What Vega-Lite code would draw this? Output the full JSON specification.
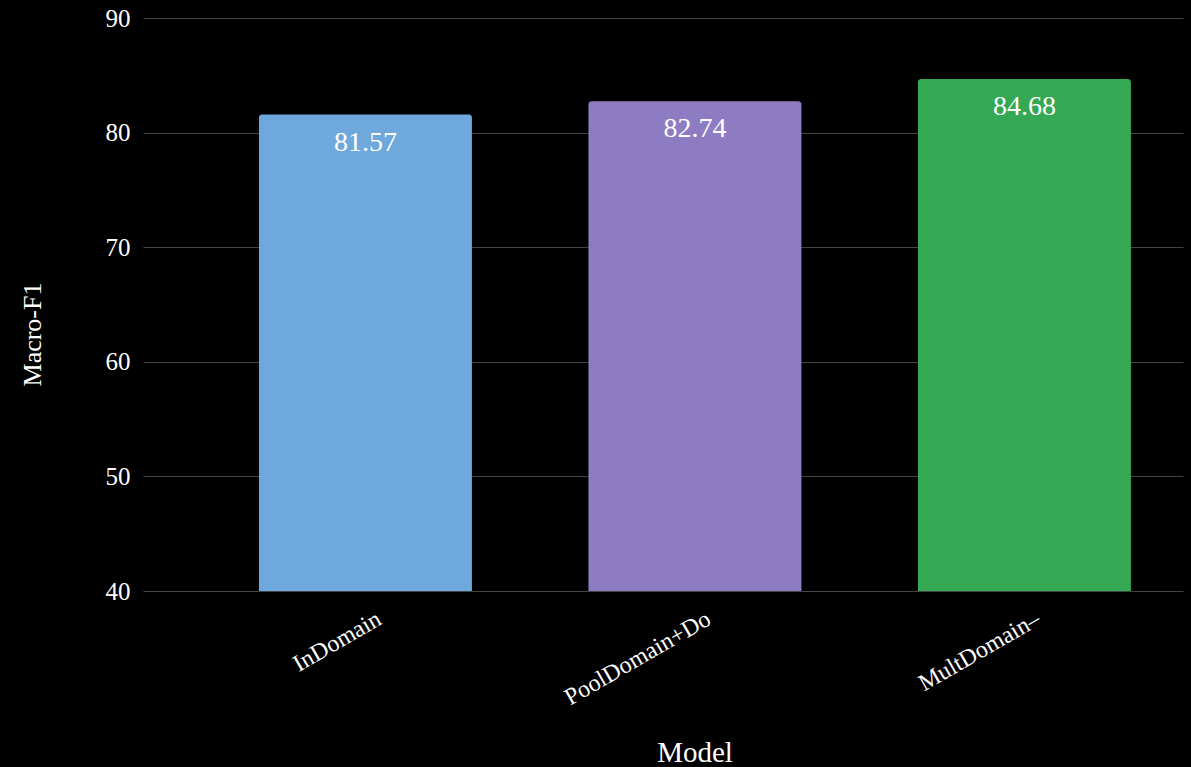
{
  "$schema": "https://vega.github.io/schema/vega-lite/v6.json",
  "width": 1040,
  "height": 573,
  "autosize": {"type": "none"},
  "padding": {"left": 143, "top": 18, "right": 8, "bottom": 176},
  "background": "#000000",
  "config": {
    "view": {"stroke": null},
    "font": "Liberation Serif"
  },
  "data": {
    "values": [
      {"Model": "InDomain", "MacroF1": 81.57},
      {"Model": "PoolDomain+Do", "MacroF1": 82.74},
      {"Model": "MultDomain–", "MacroF1": 84.68}
    ]
  },
  "encoding": {
    "x": {
      "field": "Model",
      "type": "nominal",
      "sort": null,
      "scale": {"paddingInner": 0.3536, "paddingOuter": 0.255, "align": 0.69},
      "axis": {
        "title": "Model",
        "titleFont": "Liberation Serif",
        "titleFontSize": 29,
        "titleFontWeight": "normal",
        "titleColor": "#ffffff",
        "titleX": 551.5,
        "titleY": 170,
        "titleBaseline": "alphabetic",
        "labelAngle": -30,
        "labelAlign": "right",
        "labelBaseline": "middle",
        "labelFont": "Liberation Serif",
        "labelFontSize": 24,
        "labelColor": "#ffffff",
        "labelPadding": 26,
        "labelOffset": 14,
        "ticks": false,
        "domain": false,
        "grid": false
      }
    },
    "y": {
      "field": "MacroF1",
      "type": "quantitative",
      "scale": {"domain": [40, 90], "zero": false},
      "axis": {
        "title": "Macro-F1",
        "titleFont": "Liberation Serif",
        "titleFontSize": 26,
        "titleFontWeight": "normal",
        "titleColor": "#ffffff",
        "titleX": -111,
        "titleY": 316,
        "titleAngle": -90,
        "titleBaseline": "middle",
        "values": [40, 50, 60, 70, 80, 90],
        "labelFont": "Liberation Serif",
        "labelFontSize": 25,
        "labelColor": "#ffffff",
        "labelPadding": 13,
        "ticks": false,
        "domain": false,
        "grid": true,
        "gridColor": "#444444",
        "gridWidth": 1.2
      }
    }
  },
  "layer": [
    {
      "mark": {"type": "bar", "cornerRadiusTopLeft": 3, "cornerRadiusTopRight": 3},
      "encoding": {
        "y2": {"datum": 40},
        "color": {
          "field": "Model",
          "type": "nominal",
          "sort": null,
          "scale": {"range": ["#6fa8dc", "#8e7cc3", "#34a853"]},
          "legend": null
        }
      }
    },
    {
      "mark": {"type": "text", "baseline": "top", "dy": 14, "fontSize": 28, "font": "Liberation Serif", "color": "#ffffff"},
      "encoding": {
        "text": {"field": "MacroF1", "type": "quantitative", "format": ".2f"}
      }
    }
  ]
}
